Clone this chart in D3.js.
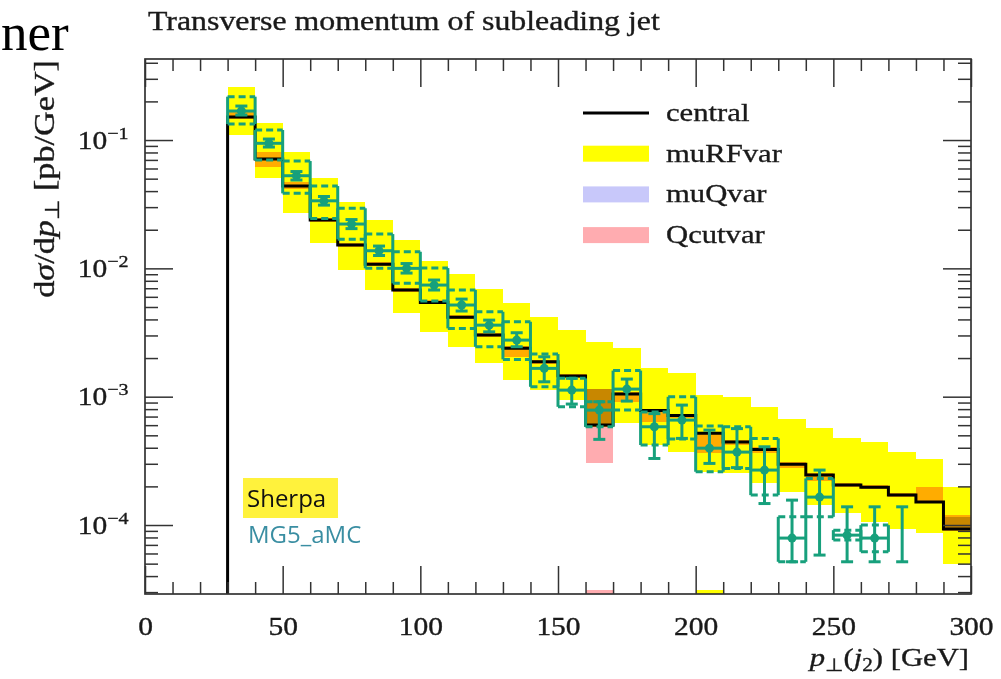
<!DOCTYPE html>
<html>
<head>
<meta charset="utf-8">
<script src="https://cdn.jsdelivr.net/npm/d3@7"></script>
<style>
  html, body { margin: 0; padding: 0; background: #fff; }
  svg { display: block; }
  .serif { font-family: "Liberation Serif", "Times New Roman", serif; stroke: #1a1a1a; stroke-width: 0.35px; }
  .sans { font-family: "Open Sans", "Lato", sans-serif; }
</style>
</head>
<body>
<svg id="chart" width="1001" height="679"></svg>
<script>
// ---- histogram binning (GeV) ----
const binEdges = [30, 40, 50, 60, 70, 80, 90, 100, 110, 120, 130, 140, 150, 160, 170,
                  180, 190, 200, 210, 220, 230, 240, 250, 260, 270, 280, 290, 300];

// ---- Sherpa: central prediction (pb/GeV) ----
const central = [0.151, 0.0711, 0.0438, 0.0238, 0.0152, 0.01075, 0.00678, 0.00541, 0.00415,
                 0.00302, 0.00239, 0.00187, 0.001447, 0.000601, 0.001048, 0.000779, 0.000713,
                 0.000518, 0.000443, 0.000388, 0.000298, 0.000245, 0.000205, 0.000197,
                 0.000171, 0.000151, 0.0000929];

// ---- Sherpa: renormalisation/factorisation scale envelope ----
const muRFHi = [0.2575, 0.1364, 0.0811, 0.0503, 0.0330, 0.0238, 0.01662, 0.0114, 0.00903,
                0.00686, 0.00534, 0.00420, 0.00330, 0.00268, 0.00238, 0.001662, 0.001519,
                0.001029, 0.000998, 0.000834, 0.000665, 0.000566, 0.000473, 0.000443,
                0.000370, 0.000325, 0.000197];
const muRFLo = [0.1094, 0.0503, 0.0271, 0.01566, 0.0097, 0.00678, 0.00448, 0.00319, 0.00245,
                0.001817, 0.001347, 0.001125, 0.000941, 0.000583, 0.000619, 0.000420, 0.000372,
                0.000260, 0.000253, 0.000211, 0.0001815, 0.000143, 0.0001238, 0.0001053,
                0.0000929, 0.0000860, 0.0000497];

// ---- Sherpa: resummation scale envelope ----
const muQHi = [0.154, 0.0725, 0.0447, 0.0243, 0.0155, 0.01097, 0.00692, 0.00552, 0.00423,
               0.00308, 0.00244, 0.00191, 0.001476, 0.001146, 0.001069, 0.000795, 0.000727,
               0.000528, 0.000452, 0.000396, 0.000304, 0.000250, 0.000209, 0.000201,
               0.000174, 0.000154, 0.0001158];
const muQLo = [0.148, 0.0697, 0.0429, 0.0233, 0.0149, 0.01054, 0.00664, 0.00530, 0.00407,
               0.00296, 0.00234, 0.00183, 0.001418, 0.000583, 0.001027, 0.000763, 0.000699,
               0.000508, 0.000434, 0.000380, 0.000292, 0.000240, 0.000201, 0.000193,
               0.000168, 0.000148, 0.0000946];

// ---- Sherpa: merging cut envelope ----
const qcutHi = [0.1653, 0.0806, 0.0471, 0.0247, 0.01575, 0.01119, 0.00702, 0.00566, 0.00433,
                0.00313, 0.00248, 0.00193, 0.00150, 0.001146, 0.001086, 0.000800, 0.000732,
                0.000530, 0.000459, 0.000405, 0.000309, 0.000254, 0.000212, 0.000205,
                0.000177, 0.000197, 0.0001195];
const qcutLo = [0.1458, 0.0616, 0.0415, 0.0230, 0.01466, 0.01042, 0.00654, 0.00527, 0.00403,
                0.00291, 0.002036, 0.001795, 0.001396, 0.000304, 0.000908, 0.000634, 0.000681,
                0.000363, 0.000420, 0.000363, 0.000278, 0.000220, 0.000197, 0.000190,
                0.000165, 0.000148, 0.0000896];

// variations that fall to the bottom edge of the frame: [band, binLow, binHigh]
const floorSlivers = [["Qcutvar", 160, 170], ["muRFvar", 200, 210]];

// ---- MG5_aMC: central, scale box and statistical error ----
const mgCentral = [0.1683, 0.0943, 0.0527, 0.0336, 0.02215, 0.01372, 0.0100, 0.00741, 0.00518,
                   0.00361, 0.00276, 0.001662, 0.001125, 0.000786, 0.001146, 0.000583, 0.000657,
                   0.000397, 0.00037, 0.000268, 0.0000791, 0.000165, 0.0000834, 0.0000791,
                   null, null, null];
const mgBoxHi = [0.2176, 0.1197, 0.0686, 0.0438, 0.0294, 0.0185, 0.01347, 0.01005, 0.00678,
                 0.00459, 0.003836, 0.002148, 0.001389, 0.000913, 0.001597, 0.000759, 0.000998,
                 0.00059, 0.000583, 0.000473, 0.0001158, 0.0002307, 0.0000912, 0.0000998,
                 null, null, null];
const mgBoxLo = [0.1333, 0.0698, 0.0384, 0.0245, 0.01683, 0.0100, 0.00764, 0.00556, 0.003406,
                 0.00245, 0.001953, 0.001194, 0.000834, 0.000583, 0.000786, 0.00042, 0.000467,
                 0.00026, 0.000276, 0.000171, 0.0000517, 0.0001158, 0.0000763, 0.0000618,
                 null, null, null];
const mgErrHi = [0.184, 0.1018, 0.0568, 0.0363, 0.0240, 0.01492, 0.0109, 0.00811, 0.00576,
                 0.00395, 0.00315, 0.002046, 0.001389, 0.000913, 0.001372, 0.000738, 0.00086,
                 0.000549, 0.000564, 0.000407, 0.0001563, 0.000268, 0.0001386, 0.0001386,
                 0.0001386, null, null];
const mgErrLo = [0.1566, 0.0882, 0.0488, 0.0311, 0.0204, 0.01259, 0.00919, 0.00678, 0.00465,
                 0.00320, 0.00245, 0.001306, 0.000876, 0.000465, 0.000924, 0.00033, 0.000473,
                 0.000302, 0.00028, 0.000147, 0.0000517, 0.0000583, 0.0000517, 0.0000517,
                 0.0000517, null, null];

// ---- axes ----
const xMajorTicks = [0, 50, 100, 150, 200, 250, 300];
const yDecades = [1e-1, 1e-2, 1e-3, 1e-4];
const yDecadeExponents = ["\u22121", "\u22122", "\u22123", "\u22124"];

// ---- legend ----
const legendNames = ["central", "muRFvar", "muQvar", "Qcutvar"];

// ---- styling ----
const COL = {
  muRFvar: "#ffff00",
  muQvar: "#c8c8fa",
  Qcutvar: "#ffacb0",
  mg: "#17a07c",
  axis: "#333333"
};
const SX = 1.18;               // horizontal stretch for the book-style serif
const nBins = central.length;

const svg = d3.select("#chart");
const x = d3.scaleLinear().domain([0, 300]).range([145, 971]);
const y = d3.scaleLog().domain([2.9e-5, 0.428]).range([594, 59]);
const [X0, X1] = x.range();
const [Y1, Y0] = y.range();

svg.append("defs").append("clipPath").attr("id", "plotClip")
  .append("rect").attr("x", X0).attr("y", Y0).attr("width", X1 - X0).attr("height", Y1 - Y0);

const plot = svg.append("g").attr("clip-path", "url(#plotClip)");

// ---- envelopes, multiplied over each other ----
const bands = plot.append("g").style("isolation", "isolate");
function drawBand(lo, hi, color) {
  bands.append("g").selectAll("rect").data(d3.range(nBins)).join("rect")
    .attr("x", i => x(binEdges[i]))
    .attr("width", i => x(binEdges[i + 1]) - x(binEdges[i]))
    .attr("y", i => y(hi[i]))
    .attr("height", i => y(lo[i]) - y(hi[i]))
    .attr("fill", color)
    .attr("shape-rendering", "crispEdges")
    .style("mix-blend-mode", "multiply");
}
drawBand(muRFLo, muRFHi, COL.muRFvar);
drawBand(muQLo, muQHi, COL.muQvar);
drawBand(qcutLo, qcutHi, COL.Qcutvar);

bands.append("g").selectAll("rect").data(floorSlivers).join("rect")
  .attr("x", d => x(d[1]))
  .attr("width", d => x(d[2]) - x(d[1]))
  .attr("y", y(3.1e-5))
  .attr("height", y(y.domain()[0]) - y(3.1e-5))
  .attr("fill", d => COL[d[0]])
  .attr("shape-rendering", "crispEdges")
  .style("mix-blend-mode", "multiply");

// ---- central Sherpa histogram ----
const stepPts = [[binEdges[0], y.domain()[0]]]
  .concat(central.map((v, i) => [binEdges[i], v]))
  .concat([[binEdges[nBins], central[nBins - 1]]]);
plot.append("path")
  .attr("d", d3.line().x(d => x(d[0])).y(d => y(d[1])).curve(d3.curveStepAfter)(stepPts))
  .attr("fill", "none").attr("stroke", "#000").attr("stroke-width", 3);

// ---- MG5_aMC boxes, centrals and error bars ----
const mg = plot.append("g").attr("stroke", COL.mg).attr("fill", "none").attr("stroke-width", 3);
for (let i = 0; i < nBins; i++) {
  const xa = x(binEdges[i]), xb = x(binEdges[i + 1]), xc = (xa + xb) / 2;
  if (mgBoxHi[i] !== null) {
    const yt = y(mgBoxHi[i]), yb = y(mgBoxLo[i]);
    mg.append("line").attr("x1", xa).attr("x2", xa).attr("y1", yt).attr("y2", yb);
    mg.append("line").attr("x1", xb).attr("x2", xb).attr("y1", yt).attr("y2", yb);
    mg.append("line").attr("x1", xa).attr("x2", xb).attr("y1", yt).attr("y2", yt)
      .attr("stroke-dasharray", "7,4");
    mg.append("line").attr("x1", xa).attr("x2", xb).attr("y1", yb).attr("y2", yb)
      .attr("stroke-dasharray", "7,4");
  }
  if (mgCentral[i] !== null) {
    const yc = y(mgCentral[i]);
    mg.append("line").attr("x1", xa).attr("x2", xb).attr("y1", yc).attr("y2", yc);
    mg.append("circle").attr("cx", xc).attr("cy", yc).attr("r", 4.5)
      .attr("fill", COL.mg).attr("stroke", "none");
  }
  if (mgErrHi[i] !== null) {
    const ye1 = y(mgErrHi[i]), ye2 = y(mgErrLo[i]);
    mg.append("line").attr("x1", xc).attr("x2", xc).attr("y1", ye1).attr("y2", ye2);
    mg.append("line").attr("x1", xc - 6).attr("x2", xc + 6).attr("y1", ye1).attr("y2", ye1);
    mg.append("line").attr("x1", xc - 6).attr("x2", xc + 6).attr("y1", ye2).attr("y2", ye2);
  }
}

// ---- axes (ticks point inwards on all four sides) ----
const xMinorTicks = d3.range(0, 301, 10).filter(v => v % 50 !== 0);
const yMinorTicks = [];
[-5, -4, -3, -2, -1].forEach(k => d3.range(2, 10).forEach(m => {
  const v = m * Math.pow(10, k);
  if (v > y.domain()[0] && v < y.domain()[1]) yMinorTicks.push(v);
}));

function axisGroup(gen, tx, ty) {
  const g = svg.append("g").attr("transform", `translate(${tx},${ty})`)
    .attr("color", COL.axis).call(gen);
  g.select(".domain").remove();
  g.selectAll(".tick line").attr("stroke-width", 1.5);
  return g;
}
const noLabel = () => "";

const gBottom = axisGroup(d3.axisBottom(x).tickValues(xMajorTicks).tickSize(-28)
  .tickPadding(23).tickFormat(d3.format("d")), 0, Y1);
gBottom.selectAll(".tick text")
  .attr("class", "serif").attr("font-size", 25).attr("fill", "#1a1a1a")
  .attr("transform", `scale(${SX},1)`);
axisGroup(d3.axisBottom(x).tickValues(xMinorTicks).tickSize(-12).tickFormat(noLabel), 0, Y1);
axisGroup(d3.axisTop(x).tickValues(xMajorTicks).tickSize(-28).tickFormat(noLabel), 0, Y0);
axisGroup(d3.axisTop(x).tickValues(xMinorTicks).tickSize(-12).tickFormat(noLabel), 0, Y0);

const gLeft = axisGroup(d3.axisLeft(y).tickValues(yDecades).tickSize(-28)
  .tickPadding(14).tickFormat(noLabel), X0, 0);
gLeft.selectAll(".tick text").each(function (d, i) {
  const t = d3.select(this);
  t.attr("class", "serif").attr("font-size", 25).attr("fill", "#1a1a1a")
    .attr("transform", `scale(${SX},1)`).attr("dy", "0.32em");
  t.append("tspan").text("10");
  t.append("tspan").attr("dy", -10).attr("font-size", 17).text(yDecadeExponents[i]);
});
axisGroup(d3.axisLeft(y).tickValues(yMinorTicks).tickSize(-13).tickFormat(noLabel), X0, 0);
axisGroup(d3.axisRight(y).tickValues(yDecades).tickSize(-28).tickFormat(noLabel), X1, 0);
axisGroup(d3.axisRight(y).tickValues(yMinorTicks).tickSize(-13).tickFormat(noLabel), X1, 0);

svg.append("rect").attr("x", X0).attr("y", Y0).attr("width", X1 - X0).attr("height", Y1 - Y0)
  .attr("fill", "none").attr("stroke", COL.axis).attr("stroke-width", 1.7);

// ---- texts ----
function sText(parent, tx, ty, size, anchor, rot) {
  return parent.append("text").attr("class", "serif").attr("font-size", size)
    .attr("fill", "#1a1a1a").attr("text-anchor", anchor || "start")
    .attr("transform", `translate(${tx},${ty})${rot ? " rotate(" + rot + ")" : ""} scale(${SX},1)`);
}

// slide heading running in from the left edge
svg.append("text").attr("x", 1).attr("y", 50)
  .attr("font-family", "Liberation Serif, serif")
  .attr("font-size", 53).attr("fill", "#000").text("ner");

sText(svg, 148, 30, 27).text("Transverse momentum of subleading jet");

// y-axis title
const yt = sText(svg, 54, 60, 29, "end", -90);
yt.append("tspan").text("d");
yt.append("tspan").attr("font-style", "italic").text("\u03c3");
yt.append("tspan").text("/d");
yt.append("tspan").attr("font-style", "italic").text("p");
yt.append("tspan").attr("font-size", 20).attr("dy", 5).text("\u22a5");
yt.append("tspan").attr("dy", -5).text(" [pb/GeV]");

// x-axis title
const xt = sText(svg, 969, 666, 26, "end");
xt.append("tspan").attr("font-style", "italic").text("p");
xt.append("tspan").attr("font-size", 18).attr("dy", 5).text("\u22a5");
xt.append("tspan").attr("dy", -5).text("(");
xt.append("tspan").attr("font-style", "italic").text("j");
xt.append("tspan").attr("font-size", 18).attr("dy", 5).text("2");
xt.append("tspan").attr("dy", -5).text(") [GeV]");

// ---- legend ----
const legend = svg.append("g");
legendNames.forEach((name, i) => {
  const cy = 113 + i * 40.7;
  if (name === "central") {
    legend.append("line").attr("x1", 583).attr("x2", 649).attr("y1", cy).attr("y2", cy)
      .attr("stroke", "#000").attr("stroke-width", 3);
  } else {
    legend.append("rect").attr("x", 583).attr("y", cy - 8).attr("width", 66).attr("height", 16)
      .attr("fill", COL[name]);
  }
  sText(legend, 666, cy + 8, 26).text(name);
});

// ---- generator labels ----
svg.append("rect").attr("x", 243).attr("y", 478).attr("width", 95).attr("height", 40)
  .attr("fill", "#fff23c");
svg.append("text").attr("class", "sans").attr("x", 247).attr("y", 507)
  .attr("font-size", 24).attr("fill", "#111").text("Sherpa");
svg.append("text").attr("class", "sans").attr("x", 248).attr("y", 543)
  .attr("font-size", 24).attr("fill", "#3a8ea2").text("MG5_aMC");
</script>
</body>
</html>
